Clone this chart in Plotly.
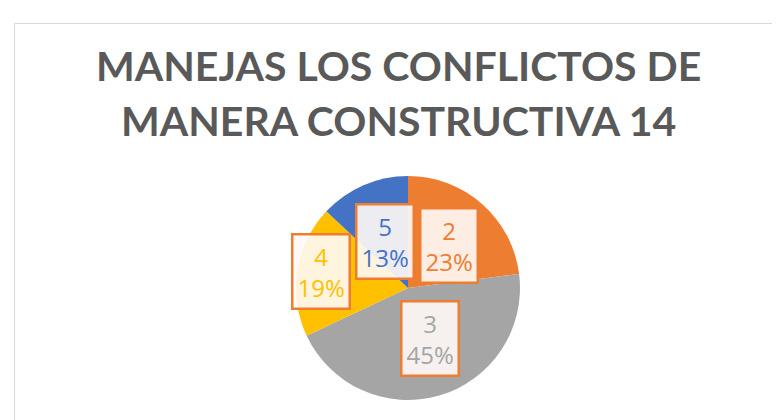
import plotly.graph_objects as go

categories = ["2", "3", "4", "5"]
values = [23, 45, 19, 13]
colors = ["#ED7D31", "#A5A5A5", "#FFC000", "#4472C4"]
title_lines = ["MANEJAS LOS CONFLICTOS DE", "MANERA CONSTRUCTIVA 14"]

# label box centres (pixels) for each category
label_pos = {"2": (441, 237), "3": (422, 330), "4": (313, 263), "5": (377, 233)}

W, H = 780, 420
fig = go.Figure()
cx, cy, r = 400, 280, 112
fig.add_trace(go.Pie(
    labels=categories, values=values, sort=False, direction="clockwise",
    rotation=0, marker=dict(colors=colors, line=dict(width=0)),
    textinfo="none", showlegend=False,
    domain=dict(x=[(cx - r) / W, (cx + r) / W], y=[1 - (cy + r) / H, 1 - (cy - r) / H]),
))

total = sum(values)
for cat, val, col in zip(categories, values, colors):
    px, py = label_pos[cat]
    pct = round(100 * val / total)
    fig.add_annotation(
        x=px / W, y=1 - py / H, xref="paper", yref="paper",
        text=f"{cat}<br>{pct}%", showarrow=False,
        font=dict(family="Open Sans", size=24, color=col),
        bgcolor="rgba(255,250,246,0.9)", bordercolor="#ED7D31", borderwidth=2.5,
        borderpad=4, xanchor="center", yanchor="middle",
    )

for i, line in enumerate(title_lines):
    fig.add_annotation(
        x=0.5, y=1 - (31 + 55 * i) / H, xref="paper", yref="paper",
        xanchor="center", yanchor="top", text=line, showarrow=False,
        font=dict(family="Lato", size=41, color="#595959", weight="bold"),
    )

fig.add_shape(type="rect", xref="paper", yref="paper",
              x0=6.5 / W, x1=1.05, y0=-0.05, y1=1 - 15.5 / H,
              line=dict(color="#D9D9D9", width=1), layer="below")

fig.update_layout(
    width=W, height=H, margin=dict(l=0, r=0, t=0, b=0),
    paper_bgcolor="white", plot_bgcolor="white",
)
fig.write_html("out.html")
